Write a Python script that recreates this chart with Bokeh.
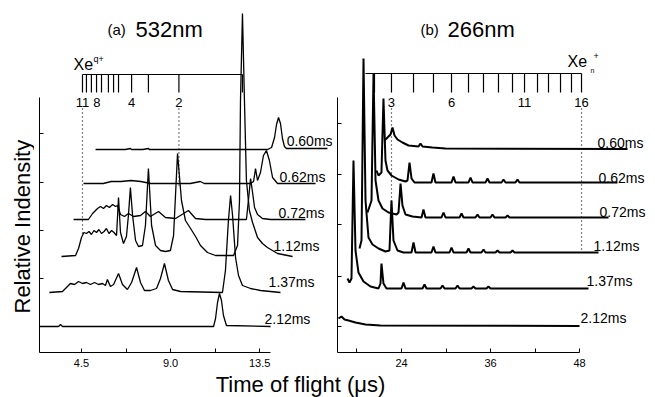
from bokeh.plotting import figure
from bokeh.layouts import column, row
from bokeh.models import Range1d, FixedTicker
from bokeh.embed import file_html
from bokeh.resources import INLINE
from bokeh.core.properties import value

FONT = "Liberation Sans"

# ---------------- data ----------------
delays = ["0.60ms", "0.62ms", "0.72ms", "1.12ms", "1.37ms", "2.12ms"]

# (a) 532 nm  -- time of flight (us) vs relative intensity (offset traces)
a060_x = [5.21, 6.72, 6.97, 7.03, 7.6, 7.88, 7.93, 9.0, 11.0, 13.9, 14.1, 14.25, 14.35, 14.45, 14.55, 14.65, 14.75, 14.85, 16.92]
a060_y = [20.3, 20.3, 20.4, 20.3, 20.3, 20.4, 20.3, 20.3, 20.3, 20.3, 20.5, 21.5, 22.8, 23.5, 22.9, 21.4, 20.6, 20.4, 20.4]

a062_x = [4.60, 5.6, 6.0, 6.5, 7.0, 7.5, 8.0, 9.0, 10.0, 10.5, 10.7, 11.5, 13.04, 13.19, 13.29, 13.39, 13.54, 13.69, 13.84, 13.99, 14.15, 14.4, 16.32]
a062_y = [16.9, 16.9, 17.1, 17.1, 17.2, 17.1, 16.9, 16.9, 16.9, 17.1, 16.9, 16.9, 16.9, 17.1, 18.4, 17.2, 18.0, 19.7, 20.2, 19.2, 17.5, 16.9, 16.9]

a072_x = [4.10, 4.85, 5.06, 5.31, 5.46, 5.61, 5.76, 5.91, 6.07, 6.22, 6.32, 6.47, 6.67, 6.87, 7.13, 7.48, 7.73, 7.98, 8.39, 8.74, 9.25, 9.90, 10.26, 10.76, 12.83, 12.93, 13.04, 13.14, 13.24, 13.39, 13.64, 14.05, 15.81]
a072_y = [13.3, 13.3, 13.9, 14.4, 14.6, 14.4, 14.7, 14.5, 14.8, 14.6, 14.7, 13.8, 13.6, 13.9, 13.6, 13.7, 14.1, 13.6, 14.1, 13.5, 13.4, 14.2, 13.4, 13.3, 13.3, 15.2, 17.4, 16.0, 14.5, 13.8, 13.4, 13.3, 13.3]

a112_x = [3.49, 4.20, 4.35, 4.50, 4.62, 4.75, 4.88, 5.00, 5.13, 5.26, 5.38, 5.51, 5.64, 5.76, 5.89, 6.02, 6.14, 6.27, 6.37, 6.47, 6.62, 6.77, 6.87, 6.97, 7.08, 7.23, 7.38, 7.58, 7.73, 7.88, 8.04, 8.24, 8.49, 8.74, 8.99, 9.15, 9.35, 9.55, 9.75, 10.01, 10.26, 10.51, 10.86, 11.27, 12.18, 12.38, 12.48, 12.53, 12.63, 12.73, 12.83, 12.98, 13.14, 13.39, 13.64, 13.89, 14.40, 15.16]
a112_y = [9.6, 9.7, 10.4, 11.5, 12.0, 11.9, 12.1, 11.8, 12.2, 12.0, 12.3, 11.9, 12.1, 12.4, 11.9, 12.2, 12.0, 11.7, 15.5, 12.0, 10.9, 11.6, 13.7, 16.5, 13.7, 11.2, 10.6, 10.7, 12.7, 18.4, 12.7, 10.7, 10.2, 10.1, 10.2, 11.7, 19.9, 15.2, 13.2, 12.4, 11.6, 10.7, 10.0, 9.7, 9.7, 10.7, 15.2, 25.2, 33.9, 25.2, 17.2, 14.2, 13.0, 11.5, 10.9, 10.5, 9.9, 9.6]

a137_x = [2.88, 3.54, 3.74, 3.94, 4.15, 4.35, 4.55, 4.75, 4.95, 5.16, 5.36, 5.56, 5.71, 5.81, 5.96, 6.12, 6.37, 6.57, 6.82, 7.03, 7.28, 7.48, 7.68, 7.98, 8.29, 8.49, 8.69, 8.89, 9.10, 9.50, 11.62, 11.77, 11.92, 12.03, 12.13, 12.28, 12.43, 12.63, 13.04, 13.54, 14.55]
a137_y = [6.0, 6.1, 6.5, 6.9, 6.8, 7.1, 6.9, 7.0, 6.8, 7.0, 6.8, 6.9, 6.7, 7.3, 6.6, 6.8, 7.9, 6.8, 6.3, 7.0, 8.5, 7.0, 6.2, 6.2, 6.4, 7.4, 8.9, 7.2, 6.3, 6.1, 6.0, 8.2, 13.2, 15.7, 13.7, 9.5, 7.7, 6.7, 6.4, 6.2, 6.0]

a212_x = [2.38, 3.34, 3.44, 3.54, 11.17, 11.27, 11.37, 11.47, 11.57, 11.67, 11.82, 14.05]
a212_y = [2.6, 2.6, 2.8, 2.6, 2.6, 3.4, 5.0, 5.9, 5.2, 3.7, 2.7, 2.6]

# (b) 266 nm
b060_x = [21.71, 22.25, 22.52, 22.79, 23.06, 23.46, 24.13, 24.94, 26.29, 26.56, 26.83, 28.18, 29.93, 54.46]
b060_y = [21.2, 21.6, 21.8, 22.5, 21.7, 21.3, 21.0, 20.7, 20.6, 20.9, 20.6, 20.5, 20.4, 20.35]

b062_x = [20.63, 20.90, 21.30, 21.57, 21.84, 22.11, 22.65, 23.60, 24.54, 24.81, 25.08, 25.35, 25.75, 28.04, 28.31, 28.58, 30.74, 31.01, 31.28, 33.03, 33.30, 33.57, 35.32, 35.59, 35.86, 37.48, 37.75, 38.02, 39.36, 39.63, 39.90, 53.11]
b062_y = [18.2, 17.7, 18.0, 25.4, 19.2, 18.2, 17.7, 17.3, 17.1, 17.2, 19.0, 17.4, 17.0, 17.0, 17.9, 17.0, 17.0, 17.6, 17.0, 17.0, 17.5, 17.0, 17.0, 17.4, 17.0, 17.0, 17.3, 17.0, 17.0, 17.3, 17.0, 17.0]

b072_x = [19.42, 19.96, 20.23, 20.50, 20.90, 21.44, 22.25, 23.33, 23.60, 23.87, 24.13, 24.54, 25.48, 26.70, 26.96, 27.23, 29.39, 29.66, 29.93, 31.82, 32.09, 32.36, 33.97, 34.24, 34.51, 35.99, 36.26, 36.53, 38.02, 38.29, 38.56, 51.90]
b072_y = [14.0, 15.2, 27.9, 17.2, 15.2, 14.4, 14.0, 13.8, 14.0, 16.9, 14.7, 13.8, 13.6, 13.5, 14.3, 13.5, 13.5, 14.0, 13.5, 13.5, 13.9, 13.5, 13.5, 13.8, 13.5, 13.5, 13.8, 13.5, 13.5, 13.7, 13.5, 13.5]

b112_x = [18.34, 18.61, 18.88, 19.15, 19.55, 20.09, 20.90, 21.84, 22.38, 22.65, 22.92, 23.46, 24.27, 25.35, 25.62, 25.89, 28.04, 28.31, 28.58, 30.47, 30.74, 31.01, 32.76, 33.03, 33.30, 34.78, 35.05, 35.32, 36.67, 36.94, 37.21, 38.69, 38.96, 39.23, 50.55]
b112_y = [10.4, 11.2, 29.4, 15.2, 11.5, 10.8, 10.4, 10.1, 10.2, 15.2, 11.2, 10.2, 10.0, 10.0, 11.0, 10.0, 10.0, 10.6, 10.0, 10.0, 10.5, 10.0, 10.0, 10.4, 10.0, 10.0, 10.3, 10.0, 10.0, 10.2, 10.0, 10.0, 10.2, 10.0, 10.0]

b137_x = [16.72, 16.99, 17.26, 17.53, 17.80, 18.20, 18.88, 19.82, 20.90, 21.17, 21.30, 21.57, 21.98, 24.0, 24.27, 24.54, 26.83, 27.10, 27.37, 29.26, 29.53, 29.80, 31.28, 31.55, 31.82, 33.43, 33.70, 33.97, 35.45, 35.72, 35.99, 49.20]
b137_y = [7.4, 7.0, 7.4, 19.2, 10.2, 8.0, 7.1, 6.6, 6.4, 6.9, 8.9, 6.9, 6.4, 6.4, 7.0, 6.4, 6.4, 6.8, 6.4, 6.4, 6.7, 6.4, 6.4, 6.7, 6.4, 6.4, 6.6, 6.4, 6.4, 6.6, 6.4, 6.4]

b212_x = [15.51, 15.91, 16.32, 16.86, 17.80, 19.15, 21.17, 47.99]
b212_y = [3.4, 3.6, 3.3, 3.2, 3.0, 2.8, 2.7, 2.65]

# Xe^q+ charge-state scale (a) and Xe_n^+ cluster scale (b)
q_tick_x = [4.55, 4.75, 5.0, 5.26, 5.51, 5.86, 6.12, 6.37, 7.03, 7.88, 9.42, 12.63]
q_labels = ["11", "8", "4", "2"]
q_label_x = [4.55, 5.28, 7.03, 9.42]
n_tick_x = [20.36, 22.65, 25.62, 28.31, 30.74, 33.03, 35.05, 37.07, 38.96, 40.58, 42.33, 43.81, 45.43, 46.91, 48.26]
n_line_start = 19.15
n_labels = ["3", "6", "11", "16"]
n_label_x = [22.65, 30.74, 40.58, 48.26]

# dotted guide lines (x, y_top, y_bottom)
a_guides = [(4.55, 24.4, 11.9), (9.42, 24.4, 16.7)]
b_guides = [(22.65, 24.4, 13.7), (48.26, 24.4, 10.0)]

# delay label anchor points
a_lab_x = [16.02, 15.66, 15.61, 15.36, 15.11, 14.90]
a_lab_y = [21.2, 17.6, 14.0, 10.7, 7.1, 3.4]
b_lab_x = [53.51, 53.65, 53.78, 52.98, 52.03, 51.22]
b_lab_y = [21.0, 17.5, 14.1, 10.7, 7.2, 3.5]

# axes ticks
a_xticks = [4.5, 9.0, 13.5]
a_xlabels = ["4.5", "9.0", "13.5"]
a_xminor = [6.75, 11.25]
b_xticks = [24, 36, 48]
b_xlabels = ["24", "36", "48"]
b_xminor = [18, 30, 42]
a_yticks = [2.6, 7.4, 12.2, 17.0, 21.9]
b_yticks = [2.6, 7.6, 12.8, 17.8, 22.9]

Y_TOP = 35.2
AX_TOP = 25.5
FIG_H = 372
YLAB_W = 34


def make_fig(width, xr, border_left, xticks, xlabels, xminor, xbounds, yticks):
    p = figure(width=width, height=FIG_H, x_range=Range1d(*xr), y_range=Range1d(0, Y_TOP),
               toolbar_location=None, output_backend="svg",
               min_border_left=border_left, min_border_right=0,
               min_border_top=0, min_border_bottom=20)
    p.grid.visible = False
    p.outline_line_color = None
    p.background_fill_color = "white"
    xa = p.xaxis[0]
    xa.ticker = FixedTicker(ticks=xticks, minor_ticks=xminor)
    xa.major_label_overrides = {t: l for t, l in zip(xticks, xlabels)}
    xa.bounds = xbounds
    xa.major_tick_in = 4
    xa.major_tick_out = 0
    xa.minor_tick_in = 4
    xa.minor_tick_out = 0
    xa.major_label_standoff = 6
    xa.major_label_text_font = FONT
    xa.major_label_text_font_size = "11px"
    xa.major_label_text_color = "black"
    xa.axis_line_color = "black"
    ya = p.yaxis[0]
    # unlabeled intensity ticks: drawn as minor ticks so no tick text is produced
    ya.ticker = FixedTicker(ticks=[], minor_ticks=yticks)
    ya.major_label_standoff = 0
    ya.bounds = (0, AX_TOP)
    ya.major_tick_in = 0
    ya.major_tick_out = 0
    ya.minor_tick_in = 4
    ya.minor_tick_out = 0
    ya.minor_tick_line_color = "black"
    ya.axis_line_color = "black"
    return p


def txt(p, x, y, t, size, align="left", baseline="middle", angle=0):
    p.text(x=x, y=y, text=t, text_font=value(FONT), text_font_size=size, angle=angle,
           text_align=align, text_baseline=baseline, text_color="black")


def blank(width, height, yr=None, border_bottom=0):
    f = figure(width=width, height=height, x_range=Range1d(0, width),
               y_range=Range1d(*(yr if yr else (0, height))),
               toolbar_location=None, output_backend="svg", x_axis_type=None, y_axis_type=None,
               min_border_left=0, min_border_right=0, min_border_top=0,
               min_border_bottom=border_bottom)
    f.grid.visible = False
    f.outline_line_color = None
    return f


# ---------------- y label strip (shares panel (a)'s vertical scale) ----------------
py_lab = blank(YLAB_W, FIG_H, yr=(0, Y_TOP), border_bottom=20)
txt(py_lab, [22], [3.9], ["Relative Indensity"], "22px", "left", "middle", angle=1.5708)

# ---------------- (a) ----------------
pa = make_fig(334 - YLAB_W, (2.379, 17.278), 39 - YLAB_W, a_xticks, a_xlabels, a_xminor,
              (2.379, 14.05), a_yticks)

for xs, ys in [(a060_x, a060_y), (a062_x, a062_y), (a072_x, a072_y),
               (a112_x, a112_y), (a137_x, a137_y), (a212_x, a212_y)]:
    pa.line(xs, ys, line_color="black", line_width=1.3)

pa.line([q_tick_x[0], q_tick_x[-1]], [27.8, 27.8], line_color="black", line_width=1.2)
pa.segment(x0=q_tick_x, y0=[27.8] * len(q_tick_x), x1=q_tick_x, y1=[26.0] * len(q_tick_x),
           line_color="black", line_width=1.2)
for gx, gy0, gy1 in a_guides:
    pa.line([gx, gx], [gy0, gy1], line_color="black", line_width=1.2, line_dash="1 3")
txt(pa, q_label_x, [25.0] * len(q_labels), q_labels, "13px", "center")
txt(pa, [4.10], [28.85], ["Xe"], "16px")
txt(pa, [5.11], [29.35], ["q+"], "9px")
txt(pa, [5.81], [32.3], ["(a)"], "15px")
txt(pa, [7.23], [32.35], ["532nm"], "22px")
txt(pa, a_lab_x, a_lab_y, delays, "14px", "center")

# ---------------- (b) ----------------
pb = make_fig(321, (15.375, 58.23), 3, b_xticks, b_xlabels, b_xminor, (15.375, 48), b_yticks)

for xs, ys in [(b060_x, b060_y), (b062_x, b062_y), (b072_x, b072_y),
               (b112_x, b112_y), (b137_x, b137_y), (b212_x, b212_y)]:
    pb.line(xs, ys, line_color="black", line_width=2)

pb.line([n_line_start, n_tick_x[-1]], [27.9, 27.9], line_color="black", line_width=1.2)
pb.segment(x0=n_tick_x, y0=[27.9] * len(n_tick_x), x1=n_tick_x, y1=[26.0] * len(n_tick_x),
           line_color="black", line_width=1.2)
for gx, gy0, gy1 in b_guides:
    pb.line([gx, gx], [gy0, gy1], line_color="black", line_width=1.2, line_dash="1 3")
txt(pb, n_label_x, [25.0] * len(n_labels), n_labels, "13px", "center")
txt(pb, [46.37], [29.1], ["Xe"], "16px")
txt(pb, [49.47], [28.2], ["n"], "7px")
txt(pb, [49.88], [29.7], ["+"], "9px")
txt(pb, [26.56], [32.3], ["(b)"], "15px")
txt(pb, [30.2], [32.35], ["266nm"], "22px")
txt(pb, b_lab_x, b_lab_y, delays, "14px", "center")

# ---------------- shared x label ----------------
pl = blank(655, 25)
txt(pl, [300], [13], ["Time of flight (\u03bcs)"], "22px", "center")

layout = column(row(py_lab, pa, pb), pl)
open("out.html", "w").write(file_html(layout, INLINE))
